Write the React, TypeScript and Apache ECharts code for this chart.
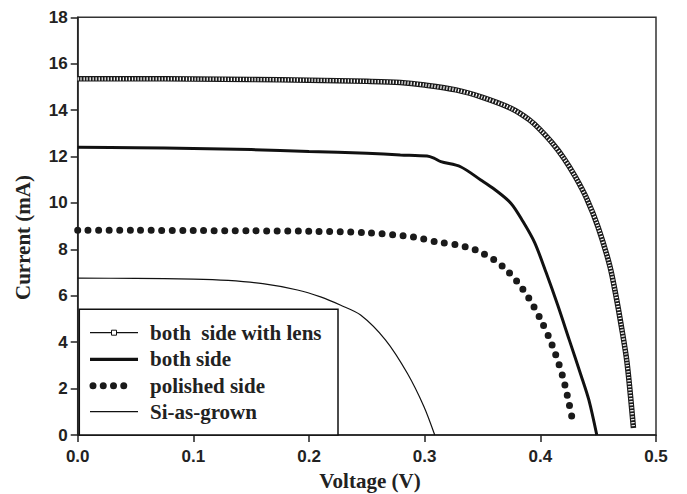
import React, { useEffect, useRef } from "react";
import * as echarts from "echarts";

// Voltage (V) / Current (mA)
const lensV = [0, 0.05, 0.1, 0.15, 0.2, 0.25, 0.279, 0.3, 0.327, 0.35, 0.3745, 0.39, 0.4, 0.41, 0.42, 0.43, 0.44, 0.45, 0.46, 0.465, 0.47, 0.475, 0.4805];
const lensI = [15.35, 15.35, 15.34, 15.32, 15.29, 15.24, 15.19, 15.08, 14.87, 14.55, 14.08, 13.6, 13.15, 12.6, 11.95, 11.15, 10.2, 8.95, 7.3, 6.1, 4.7, 3.1, 0.3];

const bothV = [0, 0.05, 0.1, 0.15, 0.2, 0.25, 0.279, 0.302, 0.308, 0.314, 0.331, 0.3485, 0.36, 0.3745, 0.385, 0.395, 0.405, 0.415, 0.425, 0.435, 0.442, 0.4488];
const bothI = [12.4, 12.38, 12.35, 12.3, 12.22, 12.14, 12.07, 12.02, 11.93, 11.78, 11.56, 10.99, 10.6, 9.99, 9.2, 8.3, 7.0, 5.6, 4.1, 2.6, 1.5, 0];

const polishedV = [0, 0.05, 0.1, 0.15, 0.2, 0.25, 0.2905, 0.3095, 0.328, 0.337, 0.3456, 0.36, 0.37, 0.38, 0.39, 0.4, 0.41, 0.42, 0.4288];
const polishedI = [8.82, 8.82, 8.81, 8.8, 8.78, 8.72, 8.53, 8.33, 8.19, 8.09, 7.94, 7.55, 7.15, 6.6, 5.9, 5.0, 3.9, 2.4, 0.4];

const siV = [0, 0.05, 0.1, 0.13, 0.16, 0.19, 0.21, 0.227, 0.2446, 0.2662, 0.285, 0.2994, 0.3087];
const siI = [6.76, 6.75, 6.72, 6.66, 6.52, 6.25, 5.95, 5.6, 5.17, 4.09, 2.66, 1.22, 0];

const seriesNames = ["both  side with lens", "both side", "polished side", "Si-as-grown"];
const xAxisTitle = "Voltage (V)";
const yAxisTitle = "Current (mA)";

const pair = (v: number[], c: number[]) => v.map((x, k) => [x, c[k]]);

export default function App() {
  const ref = useRef<HTMLDivElement>(null);
  useEffect(() => {
    const chart = echarts.init(ref.current!, null, { renderer: "svg" });
    const axisColor = "#222";
    const tickFont = { fontFamily: "Liberation Sans", fontWeight: "bold" as const, fontSize: 17, color: "#222" };
    const serifBold = "bold 21px 'Liberation Serif'";

    const legX = 79.3, legY = 309.3, legW = 258.7, legH = 125.7;
    const rows = [332.7, 359.3, 385.7, 411.7];
    const iconX1 = 90, iconX2 = 138, textX = 150;

    const graphics: any[] = [
      { type: "rect", shape: { x: legX, y: legY, width: legW, height: legH }, style: { fill: "#fff", stroke: "#111", lineWidth: 1.5 }, z: 10 },
      { type: "line", shape: { x1: iconX1, y1: rows[0], x2: iconX2, y2: rows[0] }, style: { stroke: "#111", lineWidth: 1.2 }, z: 11 },
      { type: "rect", shape: { x: 111.5, y: rows[0] - 2.5, width: 5, height: 5 }, style: { fill: "#fff", stroke: "#111", lineWidth: 1 }, z: 12 },
      { type: "line", shape: { x1: iconX1, y1: rows[1], x2: iconX2, y2: rows[1] }, style: { stroke: "#111", lineWidth: 3.2 }, z: 11 },
      { type: "line", shape: { x1: 93, y1: rows[2], x2: 134, y2: rows[2] }, style: { stroke: "#1a1a1a", lineWidth: 7, lineDash: [0, 10.25], lineCap: "round" }, z: 11 },
      { type: "line", shape: { x1: iconX1, y1: rows[3], x2: iconX2, y2: rows[3] }, style: { stroke: "#111", lineWidth: 1.2 }, z: 11 },
      ...seriesNames.map((n, k) => ({
        type: "text", z: 12,
        style: { text: n, x: textX, y: rows[k], font: serifBold, fill: "#222", textAlign: "left", textVerticalAlign: "middle" },
      })),
      { type: "text", style: { text: xAxisTitle, x: 370, y: 481, font: serifBold, fill: "#222", textAlign: "center", textVerticalAlign: "middle" } },
      { type: "text", rotation: Math.PI / 2, x: 22.5, y: 237.5, style: { text: yAxisTitle, x: 0, y: 0, font: serifBold, fill: "#222", textAlign: "center", textVerticalAlign: "middle" } },
    ];

    chart.setOption({
      animation: false,
      grid: { left: 77.7, right: 31, top: 17.3, bottom: 59, show: true, borderColor: "#333", borderWidth: 1.5, backgroundColor: "transparent" },
      xAxis: {
        type: "value", min: 0, max: 0.5, interval: 0.1,
        axisLine: { show: true, onZero: false, lineStyle: { color: axisColor, width: 1.5 } },
        axisTick: { show: true, inside: false, length: 7, lineStyle: { color: axisColor, width: 1.5 } },
        axisLabel: { ...tickFont, margin: 13, formatter: (v: number) => v.toFixed(1) },
        splitLine: { show: false },
      },
      yAxis: {
        type: "value", min: 0, max: 18, interval: 2,
        axisLine: { show: true, onZero: false, lineStyle: { color: axisColor, width: 1.5 } },
        axisTick: { show: true, inside: false, length: 7, lineStyle: { color: axisColor, width: 1.5 } },
        axisLabel: { ...tickFont, margin: 10 },
        splitLine: { show: false },
      },
      series: [
        { name: seriesNames[0], type: "line", data: pair(lensV, lensI), symbol: "none", smooth: 0.3, z: 2, lineStyle: { width: 5.5, color: "#1a1a1a" } },
        { name: "lens-markers", type: "line", data: pair(lensV, lensI), symbol: "none", smooth: 0.3, z: 3, lineStyle: { width: 3.3, color: "#fff", type: [1.2, 1.8] } },
        { name: seriesNames[1], type: "line", data: pair(bothV, bothI), symbol: "none", smooth: 0.3, z: 2, lineStyle: { width: 3, color: "#111" } },
        { name: seriesNames[2], type: "line", data: pair(polishedV, polishedI), symbol: "none", smooth: 0.3, z: 2, lineStyle: { width: 7, color: "#1a1a1a", type: [0, 10.5], cap: "round" } },
        { name: seriesNames[3], type: "line", data: pair(siV, siI), symbol: "none", smooth: 0.3, z: 2, lineStyle: { width: 1.2, color: "#111" } },
      ],
      graphic: graphics,
    });
    return () => chart.dispose();
  }, []);
  return <div ref={ref} style={{ position: "fixed", left: 0, top: 0, width: 687, height: 494, background: "#fff" }} />;
}
